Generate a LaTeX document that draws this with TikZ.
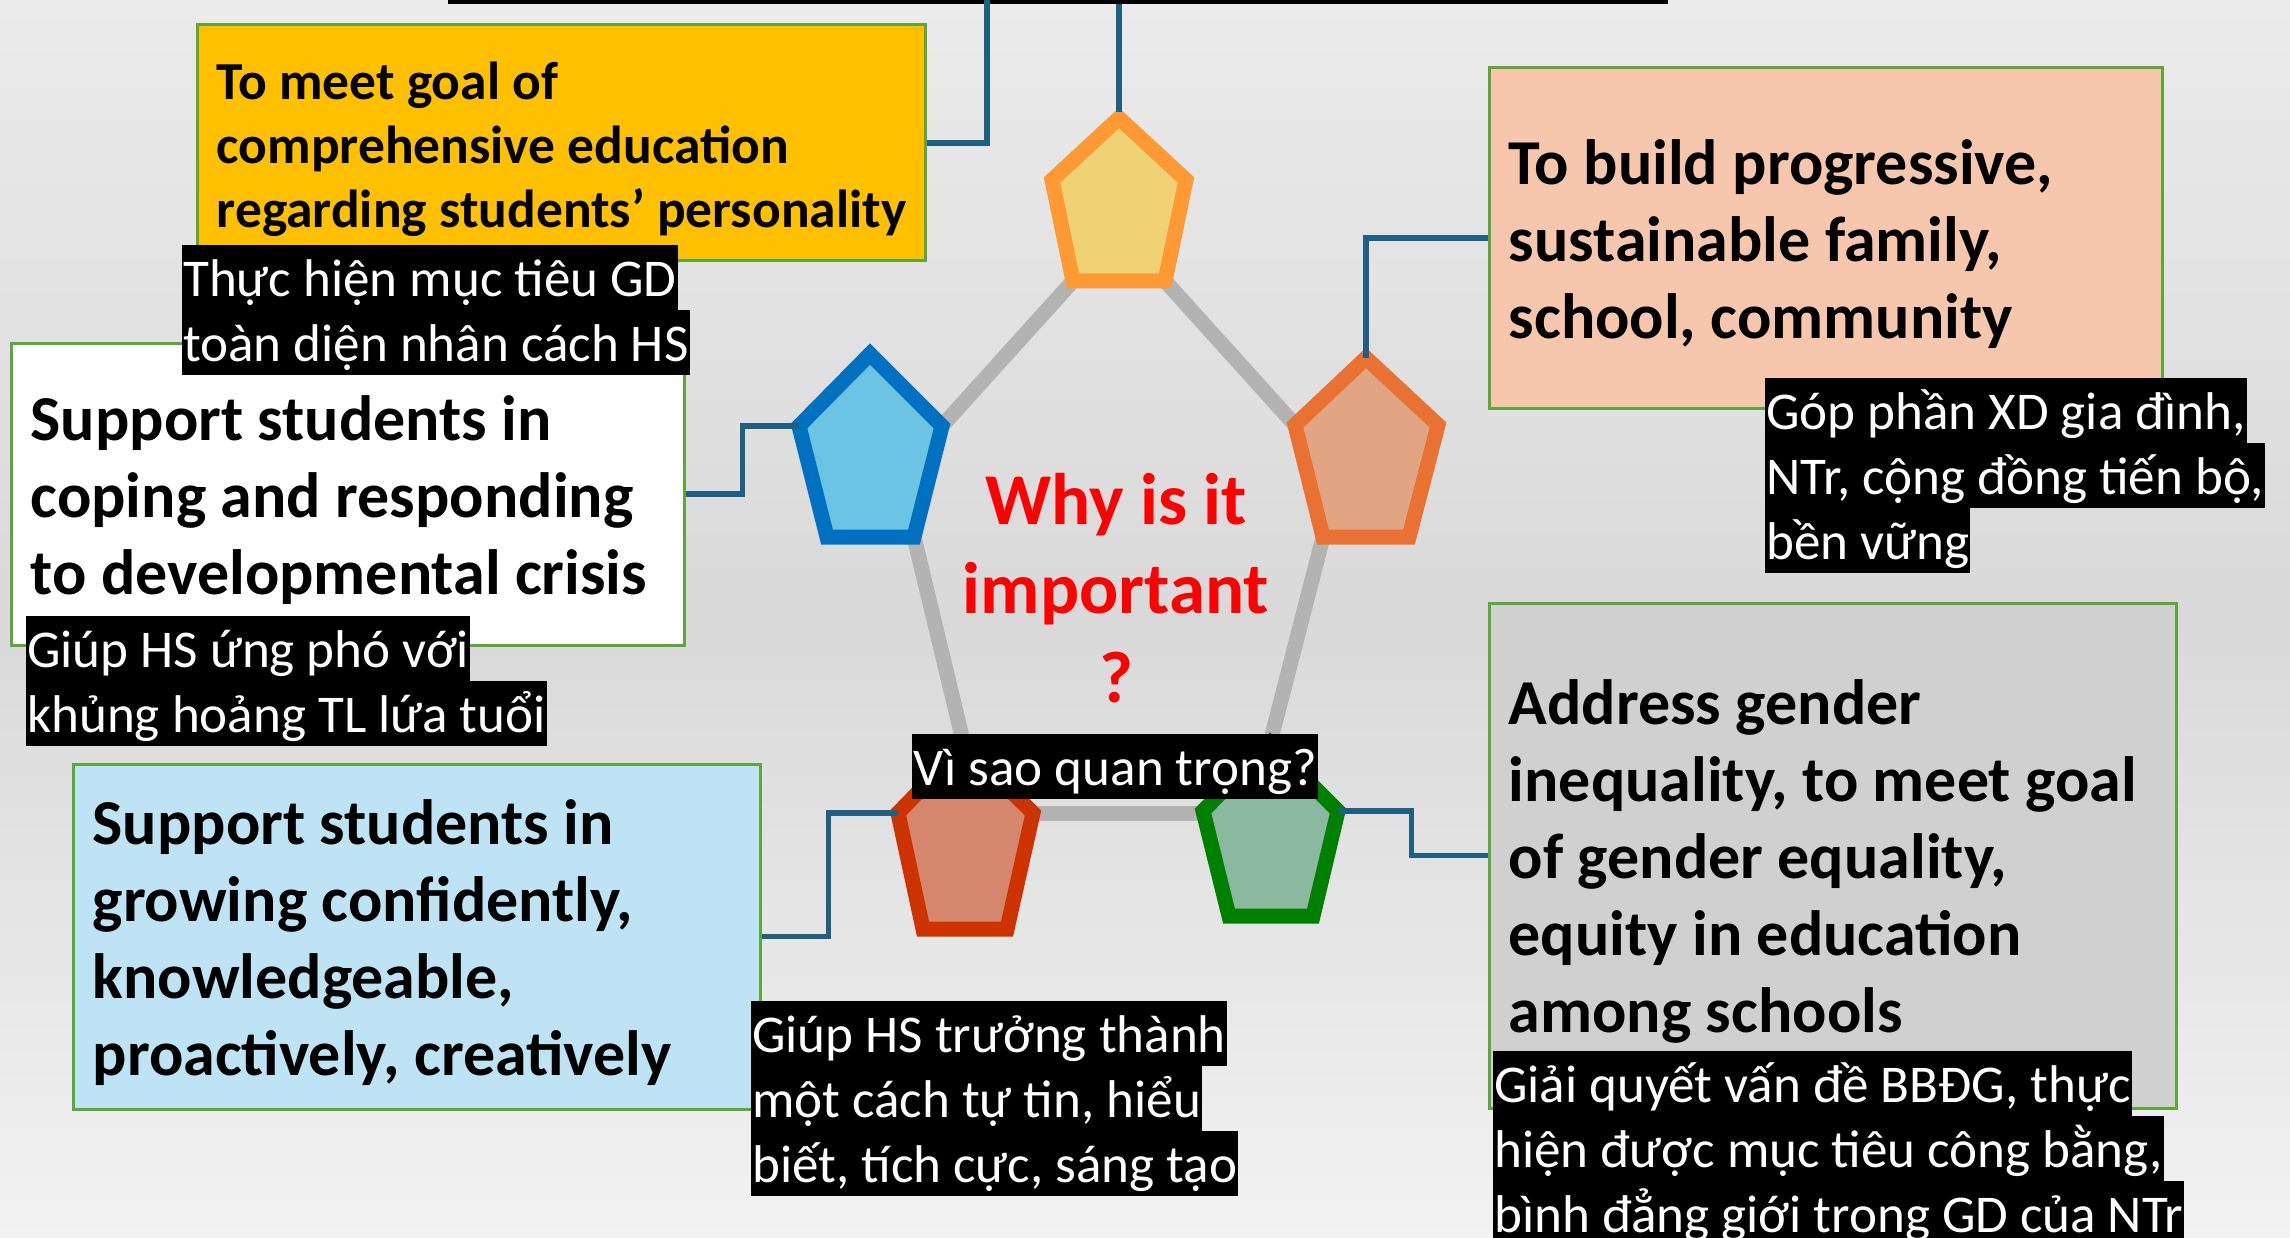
\documentclass[tikz,border=0pt]{standalone}
\usepackage{fontspec}
\setmainfont{Carlito}
\usetikzlibrary{calc}
\definecolor{bgtop}{HTML}{EBEBEB}
\definecolor{bgmid}{HTML}{D9D9D9}
\definecolor{bgbot}{HTML}{F2F2F2}
\definecolor{gold}{HTML}{FFC000}
\definecolor{boxgreen}{HTML}{5BA83A}
\definecolor{lightblue}{HTML}{BEE3F4}
\definecolor{peach}{HTML}{F6C7AD}
\definecolor{greybox}{HTML}{D0D0D0}
\definecolor{teal}{HTML}{1F5F82}
\definecolor{greyline}{HTML}{B3B3B3}
\definecolor{yfill}{HTML}{F0D275}
\definecolor{ystroke}{HTML}{FF9933}
\definecolor{bfill}{HTML}{6CC4E4}
\definecolor{bstroke}{HTML}{0070C0}
\definecolor{ofill}{HTML}{E2A584}
\definecolor{ostroke}{HTML}{E97132}
\definecolor{rfill}{HTML}{D4876C}
\definecolor{rstroke}{HTML}{CC3300}
\definecolor{gfill}{HTML}{8BB99F}
\definecolor{gstroke}{HTML}{008000}
\tikzset{
  mainbox/.style={draw=boxgreen, line width=3pt, rectangle, inner sep=0pt},
  boxtext/.style={anchor=west, inner sep=0pt, align=left},
  bigtext/.style={font=\bfseries\fontsize{64}{77}\selectfont},
  smalltext/.style={font=\bfseries\fontsize{53.5}{64}\selectfont},
  vlab/.style={fill=black, text=white, inner xsep=1pt, inner ysep=0pt, font=\fontsize{53.1}{64}\selectfont, text height=51.5pt, text depth=13pt, anchor=north west},
  conn/.style={draw=teal, line width=5.5pt},
  gline/.style={draw=greyline, line width=15pt},
  penta/.style={line width=15pt, line join=miter},
}
\begin{document}
\frenchspacing
\begin{tikzpicture}[x=1pt,y=-1pt]
\useasboundingbox (0,0) rectangle (2290,1238);
\shade[top color=bgtop, bottom color=bgmid] (0,0) rectangle (2290,620);
\shade[top color=bgmid, bottom color=bgbot] (0,619) rectangle (2290,1238);

% top bar
\node[fill=black, inner sep=0pt, minimum width=1220pt, minimum height=4pt, anchor=north west] (topbar) at (448,0) {};

% pentagon vertices (stroke centre line)
\coordinate (p1a) at (1119,118); \coordinate (p1l) at (1052,180); \coordinate (p1r) at (1186,180);
\coordinate (p1bl) at (1073,281); \coordinate (p1br) at (1165,281);
\coordinate (p2a) at (870,354); \coordinate (p2l) at (799,426); \coordinate (p2r) at (942,426);
\coordinate (p2bl) at (827,537); \coordinate (p2br) at (914,537);
\coordinate (p3a) at (1366,358); \coordinate (p3l) at (1295,425); \coordinate (p3r) at (1438,425);
\coordinate (p3bl) at (1323,537); \coordinate (p3br) at (1409,537);
\coordinate (p4a) at (964,745); \coordinate (p4l) at (898,813); \coordinate (p4r) at (1033,813);
\coordinate (p4bl) at (923,929); \coordinate (p4br) at (1007,929);
\coordinate (p5a) at (1270,743); \coordinate (p5l) at (1203,811); \coordinate (p5r) at (1338,811);
\coordinate (p5bl) at (1229,916); \coordinate (p5br) at (1313,916);

% grey frame
\draw[gline] (p1bl) -- (p2r);
\draw[gline] (p1br) -- (p3l);
\draw[gline] (p2br) -- (p4a);
\draw[gline] (p3bl) -- (p5a);
\draw[gline] (p4r) -- (p4r -| p5l);

% pentagons
\draw[penta, fill=yfill, draw=ystroke] (p1a) -- (p1r) -- (p1br) -- (p1bl) -- (p1l) -- cycle;
\draw[penta, fill=bfill, draw=bstroke] (p2a) -- (p2r) -- (p2br) -- (p2bl) -- (p2l) -- cycle;
\draw[penta, fill=ofill, draw=ostroke] (p3a) -- (p3r) -- (p3br) -- (p3bl) -- (p3l) -- cycle;
\draw[penta, fill=rfill, draw=rstroke] (p4a) -- (p4r) -- (p4br) -- (p4bl) -- (p4l) -- cycle;
\draw[penta, fill=gfill, draw=gstroke] (p5a) -- (p5r) -- (p5br) -- (p5bl) -- (p5l) -- cycle;

% boxes
\node[mainbox, fill=gold, minimum width=728pt, minimum height=236pt] (b1) at (561,143) {};
\node[boxtext, smalltext] (t1) at ($(b1.west)+(21,6)$)
  {To meet goal of\\comprehensive education\\regarding students’ personality};
\node[mainbox, fill=white, minimum width=673pt, minimum height=302pt] (b2) at (347.5,494) {};
\node[boxtext, bigtext] (t2) at ($(b2.west)+(21,6)$)
  {Support students in\\coping and responding\\to developmental crisis};
\node[mainbox, fill=lightblue, minimum width=687pt, minimum height=345pt] (b3) at (416.5,936.5) {};
\node[boxtext, bigtext] (t3) at ($(b3.west)+(21,6)$)
  {Support students in\\growing confidently,\\knowledgeable,\\proactively, creatively};
\node[mainbox, fill=peach, minimum width=673pt, minimum height=340pt] (b4) at (1825.5,238) {};
\node[boxtext, bigtext] (t4) at ($(b4.west)+(21,6)$)
  {To build progressive,\\sustainable family,\\school, community};
\node[mainbox, fill=greybox, minimum width=687pt, minimum height=505pt] (b5) at (1832.5,855.5) {};
\node[boxtext, bigtext] (t5) at ($(b5.west)+(21,6)$)
  {Address gender\\inequality, to meet goal\\of gender equality,\\equity in education\\among schools};

% connectors
\coordinate (j1) at (987,0);
\draw[conn] (b1.east) -| (j1);
\draw[conn] ($(p1a)+(0,-6)$) -- (p1a |- topbar.south);
\draw[conn] (b2.east) -- ++(57,0) |- (p2l);
\draw[conn] (b4.west) -| (p3a);
\draw[conn] (b3.east) -- ++(67,0) |- (p4l);
\draw[conn] (b5.west) -- ++(-76,0) |- (p5r);

% centre text
\node[font=\bfseries\fontsize{73}{89}\selectfont, text=red, align=center, inner sep=0pt] (why) at (1116,588)
  {Why is it\\important\\?};

% Vietnamese labels
\node[vlab] (v1a) at (182,245) {Thực hiện mục tiêu GD};
\node[vlab] (v1b) at (v1a.south west) {toàn diện nhân cách HS};
\node[vlab] (v2a) at (26,616) {Giúp HS ứng phó với};
\node[vlab] (v2b) at (v2a.south west) {khủng hoảng TL lứa tuổi};
\node[vlab] (v3a) at (751,1001) {Giúp HS trưởng thành};
\node[vlab] (v3b) at (v3a.south west) {một cách tự tin, hiểu};
\node[vlab] (v3c) at (v3b.south west) {biết, tích cực, sáng tạo};
\node[vlab] (v4a) at (1765,378) {Góp phần XD gia đình,};
\node[vlab] (v4b) at (v4a.south west) {NTr, cộng đồng tiến bộ,};
\node[vlab] (v4c) at (v4b.south west) {bền vững};
\node[vlab] (v5a) at (1493,1051) {Giải quyết vấn đề BBĐG, thực};
\node[vlab] (v5b) at (v5a.south west) {hiện được mục tiêu công bằng,};
\node[vlab] (v5c) at (v5b.south west) {bình đẳng giới trong GD của NTr};
\node[vlab] (v6) at (912,734) {Vì sao quan trọng?};
\end{tikzpicture}
\end{document}
